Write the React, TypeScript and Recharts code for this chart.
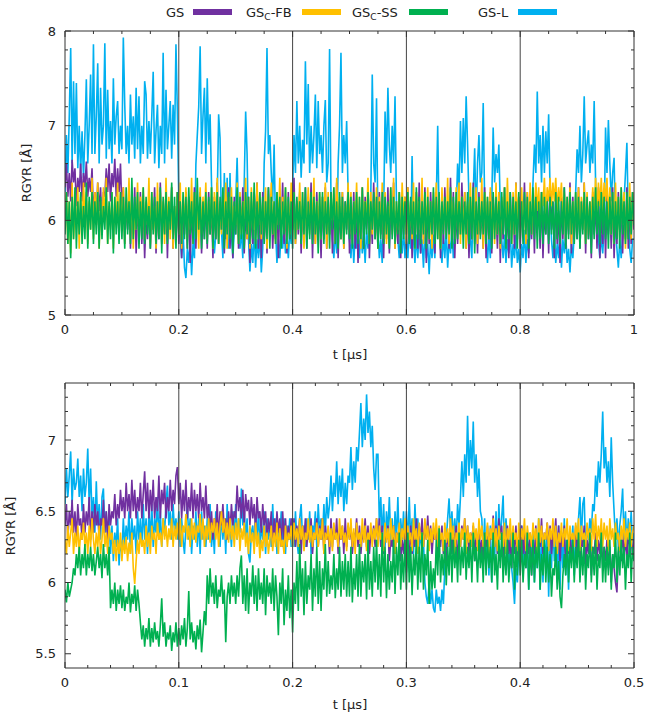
import React from 'react';
import { LineChart, Line, XAxis, YAxis, ReferenceLine } from 'recharts';

const FONT = '"DejaVu Sans", sans-serif';
const INK = '#222';
const FRAME = '#333';

// series names and colours, legend order
const NAMES = ['GS', 'GS_C-FB', 'GS_C-SS', 'GS-L'];
const COLORS = ['#7030a0', '#ffc000', '#00b050', '#00b0f0'];

// sampling step (µs) of the traces in each panel
const STEP_TOP = 0.0025;
const STEP_BOT = 0.00125;

// axis ticks
const topXMajor = [0, 0.2, 0.4, 0.6, 0.8, 1];
const topXMinor = [0.05, 0.1, 0.15, 0.25, 0.3, 0.35, 0.45, 0.5, 0.55, 0.65, 0.7, 0.75, 0.85, 0.9, 0.95];
const topYMajor = [5, 6, 7, 8];
const topYMinor = [5.2, 5.4, 5.6, 5.8, 6.2, 6.4, 6.6, 6.8, 7.2, 7.4, 7.6, 7.8];
const botXMajor = [0, 0.1, 0.2, 0.3, 0.4, 0.5];
const botXMinor = [0.02, 0.04, 0.06, 0.08, 0.12, 0.14, 0.16, 0.18, 0.22, 0.24, 0.26, 0.28, 0.32, 0.34, 0.36, 0.38, 0.42, 0.44, 0.46, 0.48];
const botYMajor = [5.5, 6, 6.5, 7];
const botYMinor = [5.6, 5.7, 5.8, 5.9, 6.1, 6.2, 6.3, 6.4, 6.6, 6.7, 6.8, 6.9, 7.1, 7.2, 7.3];

// RGYR traces, upper panel (0 - 1 µs), one row = 0.05 µs
const topGS = [
  6.35, 6.6, 6.25, 6.5, 6.2, 6.64, 6.4, 6.55, 6.15, 6.45, 6.3, 6.6, 6.2, 6.5, 6.35, 6.62, 6.25, 6.45, 6.3, 6.55,
  6.05, 6.3, 5.95, 6.4, 6.1, 6.35, 5.9, 6.3, 6.25, 6.55, 6.3, 6.6, 6.2, 6.5, 6.35, 6.65, 6.25, 6.55, 6.3, 6.6,
  6.1, 6.35, 5.75, 6.2, 5.9, 6.3, 5.7, 6.15, 5.85, 6.35, 5.65, 6.1, 5.9, 6.3, 5.75, 6.2, 5.6, 6.05, 5.8, 6.25,
  5.7, 6.15, 5.9, 6.35, 5.65, 6.2, 5.8, 6.4, 5.75, 6.1, 5.85, 6.3, 5.6, 6.2, 5.9, 6.35, 5.7, 6.15, 5.8, 6.3,
  5.75, 6.2, 5.6, 6.1, 5.85, 6.3, 5.7, 6.25, 5.55, 6.15, 5.8, 6.35, 5.7, 6.2, 5.9, 6.3, 5.65, 6.1, 5.8, 6.25,
  5.7, 6.3, 5.85, 6.15, 5.6, 6.25, 5.8, 6.4, 5.75, 6.1, 5.9, 6.3, 5.65, 6.2, 5.8, 6.35, 5.7, 6.15, 5.6, 6.25,
  5.85, 6.3, 5.7, 6.2, 5.9, 6.35, 5.65, 6.1, 5.8, 6.25, 5.55, 6.2, 5.75, 6.3, 5.85, 6.4, 5.7, 6.15, 5.6, 6.3,
  5.8, 6.2, 5.65, 6.35, 5.9, 6.25, 5.7, 6.1, 5.8, 6.3, 5.6, 6.2, 5.85, 6.4, 5.75, 6.15, 5.65, 6.3, 5.8, 6.2,
  5.9, 6.45, 5.75, 6.2, 5.85, 6.3, 5.65, 6.15, 5.8, 6.35, 5.7, 6.25, 5.9, 6.4, 5.6, 6.2, 5.75, 6.3, 5.85, 6.15,
  5.6, 6.25, 5.8, 6.35, 5.7, 6.1, 5.85, 6.3, 5.65, 6.2, 5.75, 6.4, 5.6, 6.15, 5.8, 6.3, 5.7, 6.2, 5.9, 6.35,
  5.65, 6.15, 5.85, 6.3, 5.7, 6.2, 5.55, 6.1, 5.8, 6.35, 5.7, 6.25, 5.9, 6.3, 5.6, 6.15, 5.75, 6.4, 5.8, 6.2,
  5.7, 6.3, 5.85, 6.15, 5.6, 6.25, 5.8, 6.35, 5.65, 6.2, 5.9, 6.4, 5.7, 6.1, 5.75, 6.3, 5.6, 6.2, 5.85, 6.25,
  5.7, 6.35, 5.8, 6.2, 5.6, 6.1, 5.85, 6.3, 5.7, 6.4, 5.65, 6.2, 5.8, 6.35, 5.55, 6.15, 5.75, 6.3, 5.9, 6.2,
  5.65, 6.3, 5.9, 6.15, 5.6, 6.25, 5.75, 6.35, 5.85, 6.2, 5.7, 6.45, 5.8, 6.3, 5.6, 6.15, 5.75, 6.25, 5.85, 6.4,
  5.9, 6.3, 5.7, 6.15, 5.6, 6.2, 5.8, 6.4, 5.75, 6.25, 5.65, 6.3, 5.85, 6.1, 5.7, 6.35, 5.6, 6.2, 5.8, 6.3,
  5.65, 6.25, 5.9, 6.1, 5.7, 6.3, 5.55, 6.2, 5.8, 6.35, 5.75, 6.15, 5.6, 6.3, 5.85, 6.2, 5.7, 6.4, 5.8, 6.25,
  5.7, 6.2, 5.85, 6.4, 5.75, 6.3, 5.6, 6.15, 5.8, 6.25, 5.65, 6.35, 5.9, 6.2, 5.7, 6.3, 5.6, 6.1, 5.85, 6.25,
  5.65, 6.35, 5.9, 6.2, 5.6, 6.3, 5.75, 6.1, 5.55, 6.25, 5.8, 6.35, 5.7, 6.2, 5.85, 6.4, 5.65, 6.25, 5.8, 6.15,
  5.8, 6.35, 5.7, 6.2, 5.9, 6.4, 5.65, 6.25, 5.8, 6.15, 5.6, 6.3, 5.85, 6.2, 5.7, 6.35, 5.6, 6.1, 5.75, 6.3,
  5.6, 6.3, 5.85, 6.2, 5.7, 6.35, 5.6, 6.1, 5.75, 6.3, 5.9, 6.25, 5.65, 6.2, 5.8, 6.35, 5.7, 6.15, 5.75, 6.3,
  5.9,
];
const topFB = [
  6.0, 6.3, 5.75, 6.2, 5.65, 6.4, 5.8, 6.1, 5.9, 6.35, 5.7, 6.25, 5.85, 6.4, 6.0, 6.3, 5.75, 6.2, 5.9, 6.45,
  5.8, 6.3, 5.95, 6.4, 5.7, 6.2, 5.85, 6.35, 6.0, 6.45, 5.75, 6.15, 5.9, 6.3, 5.7, 6.25, 5.95, 6.4, 5.8, 6.3,
  5.9, 6.35, 5.75, 6.2, 6.0, 6.45, 5.8, 6.3, 5.7, 6.15, 5.9, 6.4, 5.75, 6.25, 6.0, 6.35, 5.8, 6.2, 5.95, 6.45,
  5.75, 6.3, 5.9, 6.15, 5.7, 6.4, 5.85, 6.3, 6.0, 6.2, 5.75, 6.45, 5.9, 6.25, 5.8, 6.35, 5.7, 6.15, 5.95, 6.3,
  5.85, 6.4, 5.7, 6.2, 6.0, 6.35, 5.8, 6.25, 5.9, 6.45, 5.75, 6.3, 5.95, 6.15, 5.7, 6.35, 5.85, 6.25, 6.0, 6.4,
  5.8, 6.2, 5.9, 6.35, 5.7, 6.3, 5.95, 6.45, 5.75, 6.2, 5.85, 6.3, 6.0, 6.4, 5.7, 6.25, 5.9, 6.35, 5.8, 6.15,
  5.95, 6.4, 5.75, 6.3, 5.85, 6.2, 6.0, 6.45, 5.8, 6.25, 5.7, 6.35, 5.9, 6.2, 5.75, 6.4, 5.95, 6.3, 5.8, 6.2,
  5.9, 6.35, 5.7, 6.25, 6.0, 6.4, 5.85, 6.2, 5.75, 6.3, 5.95, 6.45, 5.8, 6.25, 5.9, 6.35, 5.7, 6.2, 5.85, 6.4,
  5.95, 6.3, 5.75, 6.2, 5.9, 6.4, 5.8, 6.3, 5.7, 6.15, 5.95, 6.35, 5.85, 6.25, 6.0, 6.45, 5.75, 6.2, 5.9, 6.3,
  5.8, 6.25, 5.95, 6.4, 5.7, 6.3, 5.85, 6.2, 6.0, 6.35, 5.75, 6.45, 5.9, 6.25, 5.8, 6.3, 5.7, 6.15, 5.95, 6.4,
  5.85, 6.3, 5.75, 6.2, 5.95, 6.4, 5.8, 6.25, 5.7, 6.35, 5.9, 6.2, 6.0, 6.45, 5.75, 6.3, 5.85, 6.2, 5.95, 6.35,
  5.7, 6.25, 5.9, 6.4, 5.8, 6.3, 5.75, 6.15, 5.95, 6.35, 5.85, 6.45, 5.7, 6.2, 5.9, 6.3, 5.8, 6.4, 6.0, 6.25,
  5.75, 6.35, 5.9, 6.2, 5.8, 6.4, 5.7, 6.3, 5.95, 6.2, 5.85, 6.45, 5.75, 6.25, 5.9, 6.35, 5.8, 6.2, 5.7, 6.3,
  5.95, 6.4, 5.8, 6.25, 5.7, 6.35, 5.9, 6.2, 5.85, 6.45, 5.75, 6.3, 6.0, 6.2, 5.8, 6.35, 5.9, 6.4, 5.75, 6.25,
  5.85, 6.3, 5.7, 6.2, 5.95, 6.4, 5.8, 6.25, 5.9, 6.35, 5.75, 6.2, 5.85, 6.45, 5.7, 6.3, 5.95, 6.25, 5.8, 6.35,
  5.9, 6.2, 5.75, 6.4, 5.85, 6.3, 5.7, 6.25, 5.95, 6.35, 5.8, 6.45, 5.9, 6.2, 5.75, 6.3, 5.85, 6.4, 6.0, 6.25,
  5.8, 6.35, 5.95, 6.2, 5.75, 6.3, 5.9, 6.4, 5.85, 6.25, 6.05, 6.4, 6.1, 6.35, 5.95, 6.3, 6.15, 6.45, 6.05, 6.35,
  6.2, 6.45, 6.15, 6.4, 6.2, 6.45, 6.1, 6.35, 6.2, 6.4, 5.95, 6.3, 5.8, 6.25, 5.9, 6.35, 5.75, 6.2, 5.85, 6.3,
  5.95, 6.35, 5.8, 6.25, 5.9, 6.4, 5.75, 6.3, 5.85, 6.2, 6.0, 6.35, 6.1, 6.45, 6.05, 6.4, 6.15, 6.45, 6.1, 6.4,
  6.2, 6.45, 6.0, 6.35, 5.85, 6.3, 5.75, 6.4, 5.9, 6.25, 5.8, 6.35, 5.95, 6.3, 5.7, 6.25, 5.9, 6.4, 5.8, 6.3,
  6.0,
];
const topSS = [
  5.85, 6.3, 5.75, 6.2, 5.6, 6.25, 5.8, 6.35, 5.7, 6.2, 5.85, 6.3, 5.75, 6.15, 5.8, 6.4, 5.7, 6.25, 5.9, 6.3,
  5.75, 6.2, 5.85, 6.3, 5.7, 6.25, 5.8, 6.15, 5.9, 6.35, 5.75, 6.2, 5.8, 6.3, 5.65, 6.25, 5.85, 6.2, 5.75, 6.3,
  5.8, 6.25, 5.7, 6.35, 5.85, 6.2, 5.75, 6.45, 5.8, 6.25, 5.9, 6.3, 5.7, 6.2, 5.8, 6.35, 5.75, 6.25, 5.85, 6.15,
  5.7, 6.3, 5.85, 6.25, 5.75, 6.2, 5.8, 6.35, 5.65, 6.25, 5.85, 6.3, 5.75, 6.2, 5.9, 6.4, 5.8, 6.25, 5.7, 6.3,
  5.85, 6.2, 5.75, 6.3, 5.8, 6.25, 5.7, 6.35, 5.85, 6.2, 5.75, 6.3, 5.8, 6.45, 5.9, 6.25, 5.7, 6.2, 5.8, 6.3,
  5.75, 6.25, 5.85, 6.35, 5.7, 6.2, 5.8, 6.3, 5.75, 6.25, 5.9, 6.35, 5.7, 6.2, 5.85, 6.3, 5.8, 6.25, 5.65, 6.2,
  5.85, 6.35, 5.75, 6.25, 5.8, 6.2, 5.7, 6.3, 5.85, 6.25, 5.75, 6.3, 5.8, 6.4, 5.7, 6.2, 5.8, 6.3, 5.85, 6.25,
  5.75, 6.2, 5.8, 6.35, 5.7, 6.25, 5.85, 6.2, 5.75, 6.3, 5.9, 6.25, 5.7, 6.2, 5.85, 6.35, 5.75, 6.25, 5.8, 6.2,
  5.7, 6.3, 5.8, 6.25, 5.9, 6.2, 5.75, 6.3, 5.85, 6.35, 5.7, 6.2, 5.8, 6.3, 5.75, 6.25, 5.85, 6.2, 5.65, 6.3,
  5.8, 6.3, 5.75, 6.2, 5.85, 6.25, 5.7, 6.3, 5.9, 6.35, 5.75, 6.2, 5.7, 6.3, 5.8, 6.25, 5.75, 6.2, 5.85, 6.3,
  5.8, 6.25, 5.7, 6.2, 5.85, 6.3, 5.75, 6.25, 5.8, 6.35, 5.7, 6.2, 5.85, 6.3, 5.75, 6.2, 5.9, 6.3, 5.8, 6.25,
  5.7, 6.2, 5.8, 6.3, 5.75, 6.25, 5.85, 6.2, 5.7, 6.35, 5.8, 6.25, 5.75, 6.2, 5.85, 6.3, 5.65, 6.25, 5.8, 6.2,
  5.85, 6.3, 5.75, 6.25, 5.85, 6.2, 5.7, 6.35, 5.8, 6.25, 5.75, 6.2, 5.85, 6.3, 5.7, 6.25, 5.8, 6.2, 5.85, 6.35,
  5.75, 6.25, 5.8, 6.3, 5.7, 6.2, 5.85, 6.25, 5.8, 6.2, 5.85, 6.35, 5.7, 6.25, 5.75, 6.3, 5.8, 6.2, 5.85, 6.25,
  5.7, 6.2, 5.85, 6.3, 5.75, 6.25, 5.8, 6.35, 5.65, 6.2, 5.85, 6.25, 5.8, 6.2, 5.85, 6.3, 5.75, 6.25, 5.8, 6.2,
  5.7, 6.3, 5.8, 6.25, 5.85, 6.2, 5.75, 6.3, 5.85, 6.35, 5.7, 6.2, 5.8, 6.3, 5.75, 6.25, 5.85, 6.2, 5.7, 6.3,
  5.8, 6.2, 5.75, 6.3, 5.85, 6.25, 5.7, 6.2, 5.85, 6.35, 5.8, 6.25, 5.7, 6.2, 5.8, 6.3, 5.75, 6.25, 5.85, 6.2,
  5.75, 6.25, 5.85, 6.2, 5.7, 6.3, 5.8, 6.25, 5.75, 6.2, 5.85, 6.35, 5.7, 6.25, 5.8, 6.3, 5.85, 6.2, 5.75, 6.3,
  5.8, 6.25, 5.7, 6.2, 5.85, 6.3, 5.75, 6.25, 5.8, 6.2, 5.65, 6.25, 5.8, 6.35, 5.85, 6.2, 5.75, 6.3, 5.85, 6.25,
  5.8, 6.2, 5.7, 6.25, 5.85, 6.3, 5.75, 6.2, 5.8, 6.25, 5.7, 6.35, 5.85, 6.2, 5.75, 6.3, 5.8, 6.25, 5.85, 6.3,
  5.95,
];
const topGSL = [
  6.3, 6.9, 6.5, 7.1, 7.82, 6.6, 7.47, 6.7, 7.45, 6.55, 7.0, 6.5, 6.94, 6.45, 6.9, 7.49, 6.6, 7.0, 7.54, 6.7,
  7.86, 6.7, 7.1, 7.66, 6.6, 7.4, 6.8, 7.0, 7.87, 6.65, 7.38, 6.75, 7.05, 6.6, 7.5, 6.8, 7.1, 7.26, 6.7, 7.0,
  6.75, 7.93, 7.22, 6.7, 7.0, 6.6, 7.33, 6.8, 7.1, 6.65, 7.4, 6.75, 7.31, 6.6, 7.0, 6.7, 7.47, 7.33, 6.65, 7.05,
  6.7, 7.1, 7.57, 6.6, 6.95, 7.22, 6.55, 7.0, 6.7, 7.77, 6.6, 7.38, 6.75, 7.0, 7.26, 6.65, 7.22, 6.8, 7.86, 7.15,
  6.2, 5.8, 5.6, 5.9, 5.5, 5.39, 5.7, 5.55, 5.8, 5.42, 5.75, 5.6, 6.59, 6.9, 7.2, 7.84, 6.7, 7.1, 7.4, 6.6,
  7.5, 6.8, 7.12, 6.38, 5.9, 5.65, 5.85, 6.2, 7.12, 6.87, 5.9, 5.6, 6.5, 5.8, 6.45, 5.7, 6.5, 5.85, 5.6, 5.9,
  6.2, 6.66, 6.0, 5.7, 5.9, 5.6, 6.4, 7.15, 6.7, 5.8, 5.46, 5.75, 5.55, 5.9, 5.5, 5.8, 5.6, 5.85, 5.45, 5.7,
  6.6, 6.94, 7.82, 6.7, 6.9, 6.5, 6.2, 6.8, 5.9, 5.55, 5.8, 5.6, 5.9, 5.7, 5.95, 5.65, 5.85, 5.6, 5.9, 5.75,
  6.3, 6.9, 6.5, 7.26, 6.6, 7.0, 6.45, 6.85, 6.6, 7.68, 6.8, 7.44, 6.5, 7.0, 6.6, 6.9, 7.33, 6.55, 7.26, 6.7,
  6.9, 6.5, 7.0, 7.27, 6.4, 6.6, 7.81, 6.2, 5.8, 5.6, 5.9, 5.65, 6.6, 7.0, 7.77, 6.5, 6.9, 6.6, 7.05, 6.3,
  5.8, 5.6, 5.9, 5.55, 5.85, 5.7, 5.95, 5.6, 5.9, 5.65, 5.85, 5.55, 5.9, 5.7, 6.0, 6.3, 7.54, 6.6, 6.4, 7.29,
  5.9, 5.6, 5.8, 5.55, 6.1, 7.15, 6.6, 7.4, 6.8, 6.5, 7.0, 6.6, 7.31, 6.2, 5.8, 5.6, 5.85, 5.65, 5.9, 5.6,
  5.85, 5.6, 5.9, 5.7, 6.68, 5.8, 5.55, 5.85, 5.6, 5.9, 5.65, 5.8, 5.5, 5.9, 5.6, 5.75, 5.43, 5.8, 5.6, 5.85,
  5.6, 6.2, 7.0, 6.0, 5.7, 5.55, 5.85, 5.6, 5.9, 5.5, 5.8, 5.65, 5.9, 5.6, 5.85, 6.1, 6.6, 6.3, 7.05, 6.5,
  7.08, 6.6, 7.31, 6.8, 6.2, 5.8, 5.6, 6.3, 6.76, 6.0, 6.6, 6.9, 6.4, 6.5, 7.24, 6.2, 5.8, 5.55, 5.85, 5.6,
  6.2, 6.98, 6.4, 6.7, 6.5, 6.8, 6.1, 5.8, 5.6, 5.85, 5.55, 5.8, 5.65, 5.9, 5.5, 5.75, 5.6, 5.85, 5.55, 5.7,
  5.45, 5.75, 5.6, 5.9, 5.55, 5.8, 5.65, 5.9, 6.0, 6.4, 6.8, 6.5, 7.36, 6.6, 6.9, 6.4, 7.0, 6.5, 6.94, 6.6,
  7.12, 6.3, 5.8, 5.6, 5.85, 5.55, 5.75, 5.6, 5.9, 5.5, 5.8, 5.65, 5.85, 5.55, 5.7, 5.45, 5.75, 5.6, 5.85, 6.3,
  6.75, 6.5, 7.0, 6.4, 6.7, 7.31, 6.6, 6.8, 6.95, 6.5, 6.8, 6.6, 7.26, 6.4, 6.0, 5.8, 5.6, 5.85, 5.65, 5.9,
  6.98, 6.5, 7.06, 6.6, 6.2, 6.5, 6.66, 5.9, 5.7, 5.5, 5.8, 5.6, 5.85, 6.2, 6.5, 6.82, 6.0, 5.7, 5.55, 5.8,
  5.8,
];

// RGYR traces, lower panel (0 - 0.5 µs), one row = 0.025 µs
const botGS = [
  6.4, 6.55, 6.3, 6.5, 6.4, 6.58, 6.35, 6.5, 6.3, 6.55, 6.4, 6.45, 6.3, 6.55, 6.35, 6.5, 6.4, 6.6, 6.3, 6.5,
  6.35, 6.55, 6.4, 6.5, 6.3, 6.45, 6.4, 6.58, 6.35, 6.5, 6.3, 6.55, 6.4, 6.5, 6.45, 6.62, 6.4, 6.55, 6.45, 6.65,
  6.5, 6.6, 6.45, 6.7, 6.5, 6.62, 6.45, 6.72, 6.5, 6.65, 6.45, 6.6, 6.5, 6.7, 6.45, 6.62, 6.78, 6.5, 6.7, 6.45,
  6.65, 6.5, 6.72, 6.45, 6.6, 6.5, 6.75, 6.45, 6.65, 6.55, 6.7, 6.45, 6.6, 6.5, 6.72, 6.5, 6.65, 6.55, 6.75, 6.81,
  6.55, 6.7, 6.45, 6.65, 6.5, 6.72, 6.45, 6.6, 6.5, 6.7, 6.45, 6.65, 6.5, 6.62, 6.45, 6.7, 6.5, 6.6, 6.45, 6.68,
  6.45, 6.55, 6.35, 6.5, 6.3, 6.45, 6.35, 6.55, 6.3, 6.5, 6.4, 6.55, 6.35, 6.45, 6.3, 6.5, 6.35, 6.55, 6.4, 6.5,
  6.45, 6.68, 6.5, 6.6, 6.45, 6.65, 6.4, 6.62, 6.5, 6.58, 6.4, 6.6, 6.45, 6.55, 6.35, 6.6, 6.45, 6.5, 6.35, 6.55,
  6.4, 6.5, 6.3, 6.45, 6.35, 6.5, 6.25, 6.45, 6.3, 6.5, 6.35, 6.45, 6.25, 6.5, 6.3, 6.45, 6.25, 6.4, 6.3, 6.45,
  6.3, 6.45, 6.25, 6.4, 6.3, 6.45, 6.2, 6.4, 6.3, 6.45, 6.25, 6.4, 6.3, 6.45, 6.2, 6.35, 6.3, 6.45, 6.25, 6.4,
  6.3, 6.45, 6.2, 6.4, 6.3, 6.35, 6.2, 6.45, 6.25, 6.4, 6.3, 6.45, 6.2, 6.35, 6.3, 6.4, 6.2, 6.45, 6.25, 6.4,
  6.3, 6.4, 6.2, 6.35, 6.3, 6.45, 6.25, 6.4, 6.2, 6.35, 6.3, 6.45, 6.25, 6.4, 6.2, 6.35, 6.3, 6.4, 6.25, 6.45,
  6.3, 6.45, 6.25, 6.4, 6.2, 6.35, 6.3, 6.4, 6.15, 6.3, 6.25, 6.4, 6.2, 6.35, 6.3, 6.4, 6.15, 6.3, 6.2, 6.35,
  6.07, 6.25, 6.15, 6.4, 6.2, 6.35, 6.25, 6.45, 6.2, 6.4, 6.3, 6.45, 6.25, 6.4, 6.3, 6.47, 6.25, 6.4, 6.2, 6.35,
  6.3, 6.4, 6.15, 6.35, 6.25, 6.4, 6.2, 6.3, 6.15, 6.35, 6.25, 6.4, 6.2, 6.35, 6.3, 6.4, 6.15, 6.3, 6.25, 6.4,
  6.3, 6.45, 6.25, 6.4, 6.2, 6.35, 6.3, 6.4, 6.15, 6.35, 6.25, 6.4, 6.2, 6.3, 6.15, 6.35, 6.25, 6.4, 6.2, 6.35,
  6.3, 6.47, 6.25, 6.4, 6.2, 6.45, 6.3, 6.4, 6.15, 6.35, 6.25, 6.4, 6.2, 6.3, 6.1, 6.35, 6.2, 6.4, 6.15, 6.3,
  6.25, 6.4, 6.2, 6.35, 6.1, 6.3, 6.2, 6.35, 6.05, 6.25, 6.2, 6.4, 6.15, 6.3, 6.25, 6.45, 6.2, 6.35, 6.3, 6.42,
  6.25, 6.4, 6.2, 6.35, 6.3, 6.45, 6.2, 6.4, 6.15, 6.35, 6.25, 6.4, 6.1, 6.3, 6.2, 6.35, 6.15, 6.3, 6.25, 6.4,
  6.2, 6.35, 6.15, 6.3, 6.25, 6.4, 6.1, 6.3, 6.2, 6.35, 6.05, 6.25, 6.2, 6.35, 6.15, 6.3, 6.2, 6.35, 6.1, 6.25,
  6.15, 6.3, 6.1, 6.25, 6.0, 6.2, 6.1, 6.0, 5.93, 6.2, 6.3, 6.15, 6.35, 6.2, 6.3, 6.15, 6.35, 6.25, 6.3, 6.2,
  6.3,
];
const botFB = [
  6.3, 6.2, 6.4, 6.25, 6.35, 6.45, 6.2, 6.35, 6.25, 6.4, 6.2, 6.35, 6.3, 6.42, 6.25, 6.35, 6.2, 6.4, 6.25, 6.45,
  6.3, 6.2, 6.35, 6.25, 6.4, 6.2, 6.3, 6.45, 6.25, 6.35, 6.2, 6.4, 6.3, 6.35, 6.2, 6.3, 6.15, 6.3, 6.2, 6.35,
  6.15, 6.3, 6.2, 6.32, 6.15, 6.28, 6.2, 6.35, 6.1, 5.99, 6.15, 6.3, 6.2, 6.35, 6.25, 6.3, 6.2, 6.4, 6.25, 6.35,
  6.2, 6.4, 6.3, 6.35, 6.2, 6.42, 6.3, 6.35, 6.25, 6.45, 6.3, 6.4, 6.25, 6.38, 6.3, 6.45, 6.25, 6.4, 6.3, 6.42,
  6.3, 6.45, 6.25, 6.4, 6.35, 6.48, 6.3, 6.4, 6.25, 6.45, 6.3, 6.42, 6.28, 6.4, 6.35, 6.48, 6.3, 6.45, 6.25, 6.4,
  6.3, 6.45, 6.28, 6.42, 6.35, 6.45, 6.3, 6.42, 6.25, 6.4, 6.5, 6.35, 6.45, 6.3, 6.42, 6.28, 6.45, 6.3, 6.4, 6.25,
  6.42, 6.3, 6.45, 6.22, 6.38, 6.3, 6.42, 6.25, 6.35, 6.2, 6.4, 6.28, 6.35, 6.2, 6.42, 6.25, 6.35, 6.17, 6.3, 6.22,
  6.4, 6.25, 6.35, 6.2, 6.3, 6.4, 6.22, 6.35, 6.25, 6.42, 6.2, 6.38, 6.25, 6.3, 6.2, 6.4, 6.25, 6.35, 6.3, 6.4,
  6.25, 6.42, 6.3, 6.38, 6.25, 6.45, 6.3, 6.4, 6.22, 6.35, 6.3, 6.45, 6.28, 6.4, 6.25, 6.35, 6.3, 6.42, 6.25, 6.38,
  6.3, 6.45, 6.2, 6.35, 6.3, 6.4, 6.25, 6.38, 6.22, 6.42, 6.3, 6.35, 6.25, 6.45, 6.3, 6.4, 6.28, 6.35, 6.22, 6.42,
  6.3, 6.45, 6.25, 6.38, 6.2, 6.42, 6.3, 6.35, 6.25, 6.45, 6.28, 6.4, 6.22, 6.35, 6.3, 6.42, 6.25, 6.38, 6.3, 6.45,
  6.25, 6.4, 6.3, 6.35, 6.22, 6.42, 6.28, 6.38, 6.25, 6.45, 6.3, 6.4, 6.2, 6.35, 6.28, 6.42, 6.25, 6.38, 6.3, 6.45,
  6.25, 6.4, 6.3, 6.35, 6.22, 6.45, 6.3, 6.38, 6.2, 6.42, 6.3, 6.35, 6.25, 6.45, 6.3, 6.4, 6.22, 6.38, 6.28, 6.42,
  6.3, 6.45, 6.25, 6.4, 6.3, 6.35, 6.22, 6.42, 6.28, 6.38, 6.25, 6.45, 6.3, 6.4, 6.2, 6.35, 6.3, 6.42, 6.25, 6.38,
  6.3, 6.45, 6.2, 6.4, 6.28, 6.35, 6.25, 6.42, 6.3, 6.38, 6.22, 6.45, 6.3, 6.4, 6.25, 6.35, 6.3, 6.42, 6.2, 6.38,
  6.3, 6.45, 6.25, 6.38, 6.22, 6.4, 6.3, 6.35, 6.25, 6.42, 6.2, 6.38, 6.3, 6.45, 6.25, 6.4, 6.3, 6.35, 6.22, 6.42,
  6.25, 6.38, 6.3, 6.45, 6.22, 6.4, 6.3, 6.35, 6.25, 6.42, 6.3, 6.38, 6.2, 6.45, 6.28, 6.4, 6.25, 6.35, 6.3, 6.42,
  6.22, 6.38, 6.3, 6.45, 6.25, 6.4, 6.2, 6.35, 6.28, 6.42, 6.25, 6.38, 6.3, 6.45, 6.22, 6.4, 6.3, 6.35, 6.25, 6.42,
  6.3, 6.45, 6.22, 6.4, 6.3, 6.35, 6.25, 6.42, 6.3, 6.38, 6.22, 6.45, 6.3, 6.48, 6.25, 6.4, 6.3, 6.45, 6.25, 6.42,
  6.3, 6.4, 6.22, 6.45, 6.3, 6.38, 6.25, 6.42, 6.3, 6.35, 6.22, 6.4, 6.3, 6.45, 6.25, 6.38, 6.3, 6.42, 6.25, 6.35,
  6.4,
];
const botSS = [
  5.95, 5.86, 6.0, 5.9, 5.95, 6.0, 6.1, 6.05, 6.2, 6.1, 6.25, 6.05, 6.2, 6.1, 6.27, 6.05, 6.2, 6.1, 6.25, 6.08,
  6.2, 6.05, 6.15, 6.25, 6.1, 6.2, 6.03, 6.27, 6.1, 6.2, 6.05, 6.25, 5.82, 5.95, 5.85, 6.0, 5.8, 5.95, 5.85, 5.98,
  5.82, 5.95, 5.8, 5.9, 5.85, 6.0, 5.79, 5.92, 5.85, 5.98, 5.8, 5.95, 5.85, 5.72, 5.6, 5.7, 5.55, 5.68, 5.6, 5.75,
  5.55, 5.68, 5.58, 5.72, 5.6, 5.66, 5.55, 5.7, 5.89, 5.62, 5.72, 5.55, 5.65, 5.6, 5.7, 5.52, 5.65, 5.58, 5.72, 5.55,
  5.68, 5.56, 5.7, 5.6, 5.75, 5.55, 5.68, 5.94, 5.6, 5.72, 5.58, 5.66, 5.53, 5.7, 5.6, 5.74, 5.51, 5.65, 5.8, 5.7,
  6.05, 5.85, 6.1, 5.9, 6.0, 5.85, 6.05, 5.82, 5.95, 5.9, 6.05, 5.85, 5.95, 5.58, 5.9, 6.0, 5.85, 6.05, 5.9, 6.0,
  5.85, 6.05, 5.9, 6.1, 6.19, 5.85, 6.05, 5.8, 6.1, 5.78, 6.0, 5.9, 6.12, 5.85, 6.05, 5.8, 6.1, 5.88, 6.0, 5.85,
  6.1, 5.77, 6.05, 5.9, 6.0, 5.85, 6.1, 5.8, 6.05, 5.9, 5.63, 6.0, 5.85, 6.1, 5.7, 5.95, 5.8, 6.05, 5.75, 5.95,
  5.65, 6.0, 5.85, 6.15, 5.8, 6.27, 5.9, 6.1, 5.77, 6.15, 5.85, 6.05, 5.95, 6.2, 5.8, 6.1, 5.9, 6.25, 5.85, 6.15,
  5.8, 6.1, 5.95, 6.27, 5.9, 6.15, 5.92, 6.05, 5.95, 6.2, 5.89, 6.1, 5.95, 6.25, 5.9, 6.15, 5.95, 6.2, 5.9, 6.15,
  5.9, 6.25, 5.86, 6.1, 5.95, 6.2, 5.9, 6.27, 5.9, 6.15, 6.0, 6.2, 5.88, 6.3, 5.95, 6.15, 5.9, 6.25, 6.0, 6.3,
  5.95, 6.2, 5.9, 6.35, 6.0, 6.25, 5.89, 6.2, 5.95, 6.15, 6.0, 6.3, 5.92, 6.25, 6.05, 6.35, 5.95, 6.2, 6.0, 6.3,
  5.95, 6.35, 6.0, 6.25, 5.91, 6.2, 6.05, 6.3, 5.95, 6.25, 6.0, 6.35, 5.95, 6.2, 6.05, 6.3, 5.85, 6.15, 5.95, 6.1,
  5.96, 6.3, 6.05, 6.38, 6.0, 6.2, 6.05, 6.3, 5.98, 6.25, 6.05, 6.35, 6.0, 6.3, 6.1, 6.25, 6.0, 6.35, 6.05, 6.25,
  6.1, 6.35, 6.02, 6.25, 6.1, 6.3, 6.0, 6.35, 6.15, 6.25, 6.0, 6.3, 6.1, 6.25, 6.0, 6.35, 6.05, 6.3, 6.1, 6.25,
  6.0, 6.35, 6.05, 6.2, 5.95, 6.3, 6.1, 6.35, 6.0, 6.25, 6.05, 6.3, 6.0, 6.2, 6.1, 6.35, 5.95, 6.25, 6.05, 6.3,
  6.05, 6.3, 6.0, 6.2, 6.1, 6.35, 5.95, 6.25, 6.05, 6.3, 6.0, 6.25, 6.1, 6.35, 5.95, 6.2, 6.05, 6.3, 6.0, 6.25,
  6.0, 6.2, 5.9, 6.1, 6.05, 6.25, 5.95, 6.15, 5.9, 5.82, 6.05, 6.2, 6.05, 6.3, 6.0, 6.25, 6.1, 6.3, 6.0, 6.25,
  6.1, 6.35, 6.0, 6.25, 6.05, 6.3, 5.95, 6.2, 6.1, 6.35, 6.0, 6.25, 6.05, 6.3, 5.95, 6.2, 6.1, 6.35, 6.0, 6.25,
  6.0, 6.25, 6.05, 6.3, 5.95, 6.2, 6.1, 6.35, 6.0, 6.25, 6.05, 6.3, 6.1, 6.25, 5.95, 6.2, 6.1, 6.35, 6.0, 6.25,
  6.15,
];
const botGSL = [
  6.55, 6.8, 6.6, 6.75, 6.92, 6.55, 6.8, 6.65, 6.7, 6.87, 6.6, 6.75, 6.5, 6.8, 6.6, 6.7, 6.94, 6.55, 6.8, 6.45,
  6.6, 6.35, 6.71, 6.4, 6.55, 6.3, 6.6, 6.66, 6.35, 6.5, 6.25, 6.45, 6.2, 6.4, 6.15, 6.35, 6.25, 6.45, 6.12, 6.3,
  6.2, 6.45, 6.25, 6.4, 6.3, 6.5, 6.2, 6.45, 6.3, 6.4, 6.2, 6.5, 6.3, 6.45, 6.25, 6.55, 6.3, 6.45, 6.2, 6.5,
  6.3, 6.55, 6.25, 6.45, 6.35, 6.6, 6.3, 6.5, 6.25, 6.45, 6.35, 6.55, 6.68, 6.4, 6.5, 6.3, 6.55, 6.35, 6.45, 6.3,
  6.5, 6.25, 6.45, 6.3, 6.2, 6.4, 6.55, 6.3, 6.45, 6.2, 6.4, 6.3, 6.5, 6.25, 6.45, 6.2, 6.5, 6.3, 6.4, 6.25,
  6.45, 6.3, 6.55, 6.25, 6.4, 6.2, 6.5, 6.35, 6.4, 6.25, 6.5, 6.3, 6.45, 6.2, 6.55, 6.3, 6.4, 6.25, 6.5, 6.3,
  6.55, 6.3, 6.45, 6.35, 6.66, 6.4, 6.5, 6.3, 6.45, 6.2, 6.14, 6.35, 6.4, 6.25, 6.45, 6.3, 6.5, 6.25, 6.4, 6.3,
  6.5, 6.2, 6.45, 6.3, 6.4, 6.25, 6.55, 6.3, 6.45, 6.2, 6.4, 6.3, 6.5, 6.25, 6.45, 6.2, 6.4, 6.3, 6.45, 6.25,
  6.45, 6.25, 6.5, 6.3, 6.2, 6.45, 6.55, 6.3, 6.4, 6.25, 6.45, 6.3, 6.5, 6.2, 6.4, 6.35, 6.5, 6.25, 6.55, 6.35,
  6.45, 6.3, 6.55, 6.35, 6.6, 6.45, 6.55, 6.75, 6.5, 6.7, 6.6, 6.85, 6.55, 6.75, 6.6, 6.8, 6.5, 6.7, 6.55, 6.75,
  6.7, 6.95, 6.65, 6.85, 6.7, 6.95, 6.85, 7.05, 7.26, 6.95, 7.15, 7.0, 7.32, 7.05, 7.2, 6.95, 7.1, 6.8, 6.65, 6.9,
  6.9, 6.4, 6.6, 6.3, 6.55, 6.25, 6.5, 6.35, 6.6, 6.3, 6.45, 6.2, 6.5, 6.3, 6.6, 6.25, 6.45, 6.3, 6.5, 6.25,
  6.5, 6.25, 6.6, 6.3, 6.45, 6.2, 6.55, 6.3, 6.45, 6.25, 6.35, 6.2, 6.3, 6.0, 5.9, 5.85, 6.0, 5.85, 5.95, 5.82,
  5.79, 5.95, 5.85, 5.9, 5.8, 5.95, 5.85, 6.1, 6.3, 6.45, 6.59, 6.35, 6.5, 6.3, 6.45, 6.3, 6.55, 6.4, 6.6, 6.85,
  6.6, 6.9, 6.7, 7.17, 6.75, 7.0, 6.8, 7.13, 6.7, 6.9, 6.6, 6.8, 6.5, 6.45, 6.2, 6.45, 6.1, 6.35, 6.05, 6.4,
  6.0, 6.4, 6.15, 6.5, 6.2, 6.55, 6.3, 6.45, 6.61, 6.2, 6.45, 6.3, 6.05, 6.35, 6.1, 6.0, 5.85, 6.1, 6.0, 6.25,
  6.2, 6.4, 6.05, 6.3, 6.15, 6.35, 5.95, 6.3, 6.1, 6.4, 6.0, 6.3, 6.1, 6.45, 5.95, 6.35, 6.0, 6.3, 6.15, 6.4,
  5.9, 6.3, 6.1, 6.4, 6.15, 6.35, 6.0, 6.4, 5.95, 6.35, 6.1, 6.45, 6.05, 6.3, 5.95, 6.35, 6.2, 6.4, 6.05, 6.3,
  6.2, 6.45, 6.6, 6.3, 6.55, 6.6, 6.2, 6.4, 6.3, 6.45, 6.35, 6.55, 6.5, 6.75, 6.6, 6.85, 6.7, 6.9, 7.2, 6.8,
  6.95, 6.7, 6.85, 6.6, 7.02, 6.7, 6.5, 6.3, 6.45, 6.25, 6.4, 6.5, 6.66, 6.3, 6.5, 6.25, 6.45, 6.3, 6.5, 6.25,
  6.35,
];

const toRows = (vals: number[], step: number) =>
  vals.map((v, i) => ({ t: +(i * step).toFixed(5), v }));

type Side = 'bottom' | 'top' | 'left' | 'right';

// gnuplot-like inward ticks, long on majors, short on minors
const frameTick = (side: Side, majors: number[], labels: boolean) => (props: any) => {
  const { x, y, payload } = props;
  const v = payload.value;
  const major = majors.some((m) => Math.abs(m - v) < 1e-9);
  const len = major ? 6 : 3;
  const dx = side === 'left' ? len : side === 'right' ? -len : 0;
  const dy = side === 'bottom' ? -len : side === 'top' ? len : 0;
  let label = null;
  if (labels && major) {
    label =
      side === 'bottom' ? (
        <text x={x} y={y + 19} textAnchor="middle" fontSize={13} fontFamily={FONT} fill={INK}>
          {String(v)}
        </text>
      ) : (
        <text x={x - 9} y={y + 4.5} textAnchor="end" fontSize={13} fontFamily={FONT} fill={INK}>
          {String(v)}
        </text>
      );
  }
  return (
    <g>
      <line x1={x} y1={y} x2={x + dx} y2={y + dy} stroke={FRAME} strokeWidth={1} />
      {label}
    </g>
  );
};

type PanelProps = {
  height: number;
  margin: { top: number; right: number; bottom: number; left: number };
  step: number;
  traces: number[][]; // in drawing order: GS-L, GS, GS_C-FB, GS_C-SS
  xDomain: [number, number];
  xMajor: number[];
  xMinor: number[];
  yDomain: [number, number];
  yMajor: number[];
  yMinor: number[];
};

// colour index for each trace in drawing order
const DRAW_COLOR = [3, 0, 1, 2];

function Panel(p: PanelProps) {
  const xTicks = [...p.xMajor, ...p.xMinor].sort((a, b) => a - b);
  const yTicks = [...p.yMajor, ...p.yMinor].sort((a, b) => a - b);
  const grid = p.xMajor.filter((v) => v > p.xDomain[0] && v < p.xDomain[1]);
  return (
    <LineChart width={646} height={p.height} margin={p.margin}>
      <XAxis
        xAxisId="b"
        type="number"
        dataKey="t"
        domain={p.xDomain}
        allowDataOverflow
        ticks={xTicks}
        interval={0}
        height={45}
        tickSize={0}
        tickMargin={0}
        tickLine={false}
        axisLine={{ stroke: FRAME }}
        tick={frameTick('bottom', p.xMajor, true)}
      />
      <XAxis
        xAxisId="t"
        orientation="top"
        type="number"
        dataKey="t"
        domain={p.xDomain}
        allowDataOverflow
        ticks={xTicks}
        interval={0}
        height={4}
        tickSize={0}
        tickMargin={0}
        tickLine={false}
        axisLine={{ stroke: FRAME }}
        tick={frameTick('top', p.xMajor, false)}
      />
      <YAxis
        yAxisId="l"
        type="number"
        domain={p.yDomain}
        allowDataOverflow
        ticks={yTicks}
        interval={0}
        width={50}
        tickSize={0}
        tickMargin={0}
        tickLine={false}
        axisLine={{ stroke: FRAME }}
        tick={frameTick('left', p.yMajor, true)}
      />
      <YAxis
        yAxisId="r"
        orientation="right"
        type="number"
        domain={p.yDomain}
        allowDataOverflow
        ticks={yTicks}
        interval={0}
        width={4}
        tickSize={0}
        tickMargin={0}
        tickLine={false}
        axisLine={{ stroke: FRAME }}
        tick={frameTick('right', p.yMajor, false)}
      />
      {p.traces.map((vals, i) => (
        <Line
          key={NAMES[DRAW_COLOR[i]]}
          xAxisId="b"
          yAxisId="l"
          data={toRows(vals, p.step)}
          dataKey="v"
          type="linear"
          stroke={COLORS[DRAW_COLOR[i]]}
          strokeWidth={1.6}
          dot={false}
          activeDot={false}
          isAnimationActive={false}
        />
      ))}
      {grid.map((v) => (
        <ReferenceLine key={v} xAxisId="b" yAxisId="l" x={v} stroke="#444" strokeWidth={1} />
      ))}
    </LineChart>
  );
}

// "GS" + subscript "C" + suffix
const SubName = ({ x, y, name }: { x: number; y: number; name: string }) => {
  const [head, tail] = name.split('_');
  if (tail === undefined) {
    return (
      <text x={x} y={y} fontSize={13} fontFamily={FONT} fill={INK}>
        {head}
      </text>
    );
  }
  return (
    <text x={x} y={y} fontSize={13} fontFamily={FONT} fill={INK}>
      {head}
      <tspan fontSize={9} dy={3}>
        {tail[0]}
      </tspan>
      <tspan dy={-3}>{tail.slice(1)}</tspan>
    </text>
  );
};

const legendText = [166, 246, 352, 478];
const legendSwatch = [193, 302, 409, 518];

export default function App() {
  return (
    <div style={{ position: 'absolute', left: 0, top: 0, width: 646, height: 715, background: '#fff' }}>
      <div style={{ position: 'absolute', left: 0, top: 0 }}>
        <Panel
          height={372}
          margin={{ top: 27, right: 8, bottom: 12, left: 15 }}
          step={STEP_TOP}
          traces={[topGSL, topGS, topFB, topSS]}
          xDomain={[0, 1]}
          xMajor={topXMajor}
          xMinor={topXMinor}
          yDomain={[5, 8]}
          yMajor={topYMajor}
          yMinor={topYMinor}
        />
      </div>
      <div style={{ position: 'absolute', left: 0, top: 360 }}>
        <Panel
          height={355}
          margin={{ top: 19, right: 8, bottom: 2, left: 15 }}
          step={STEP_BOT}
          traces={[botGSL, botGS, botFB, botSS]}
          xDomain={[0, 0.5]}
          xMajor={botXMajor}
          xMinor={botXMinor}
          yDomain={[5.4, 7.4]}
          yMajor={botYMajor}
          yMinor={botYMinor}
        />
      </div>
      <svg width={646} height={715} style={{ position: 'absolute', left: 0, top: 0, pointerEvents: 'none' }}>
        {NAMES.map((n, i) => (
          <g key={n}>
            <SubName x={legendText[i]} y={17} name={n} />
            <rect x={legendSwatch[i]} y={9} width={39} height={6} fill={COLORS[i]} />
          </g>
        ))}
        <text x={350} y={359} textAnchor="middle" fontSize={13} fontFamily={FONT} fill={INK}>
          t [µs]
        </text>
        <text x={350} y={709} textAnchor="middle" fontSize={13} fontFamily={FONT} fill={INK}>
          t [µs]
        </text>
        <text
          x={31}
          y={173}
          textAnchor="middle"
          fontSize={13}
          fontFamily={FONT}
          fill={INK}
          transform="rotate(-90 31 173)"
        >
          RGYR [Å]
        </text>
        <text
          x={15}
          y={526}
          textAnchor="middle"
          fontSize={13}
          fontFamily={FONT}
          fill={INK}
          transform="rotate(-90 15 526)"
        >
          RGYR [Å]
        </text>
      </svg>
    </div>
  );
}
